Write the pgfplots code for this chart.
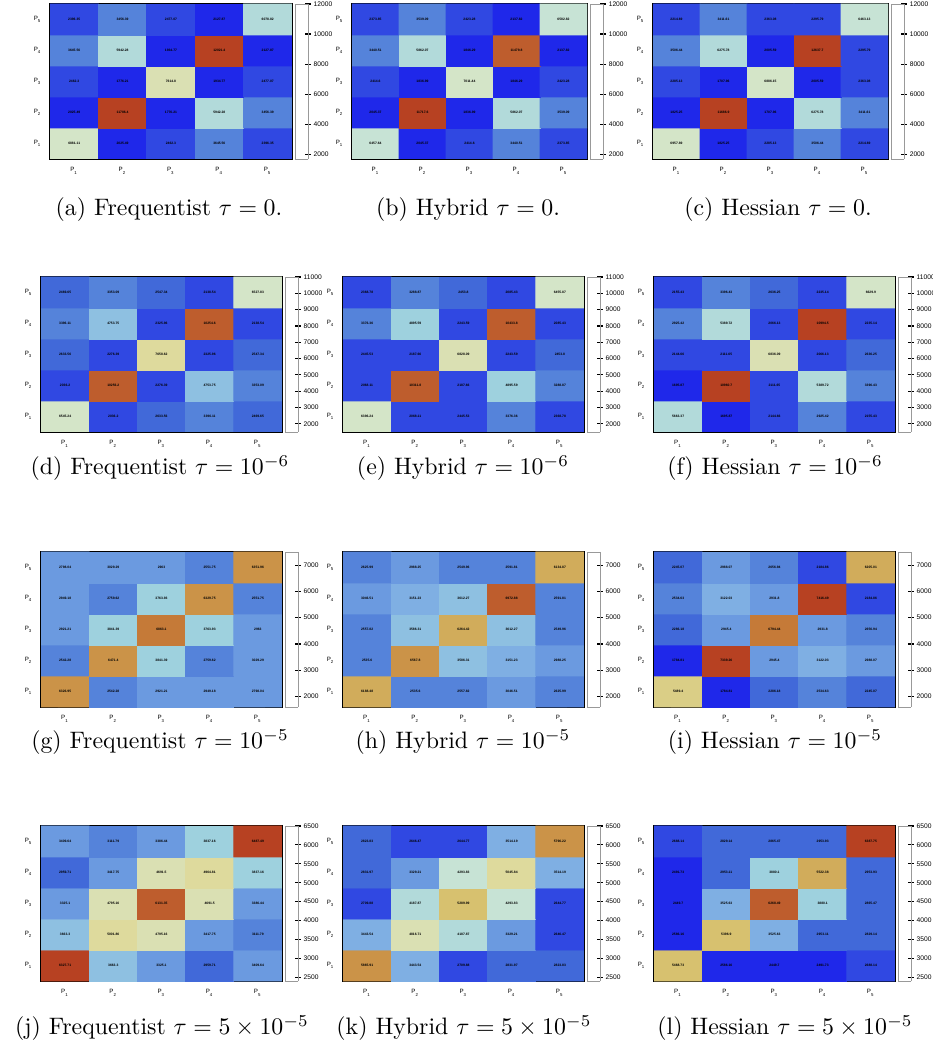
\documentclass[border=0pt]{standalone}
\usepackage{fontspec}
\usepackage{pgfplots}
\pgfplotsset{compat=1.18}
\newfontfamily\rf{Liberation Sans}
\newcommand\px{0.42pt}

\pgfplotsset{
  colormap={lighttemp}{rgb255=(31,40,234) rgb255=(71,117,214) rgb255=(123,171,228)
    rgb255=(160,211,222) rgb255=(210,231,210) rgb255=(222,220,160)
    rgb255=(214,190,105) rgb255=(199,132,60) rgb255=(183,65,34)},
  colormap={lt20}{samples of colormap=(20 of lighttemp)},
  hm/.style={
    scale only axis, anchor=north west,
    height=65.1pt,
    xmin=0.5, xmax=5.5, ymin=0.5, ymax=5.5,
    xtick={1,2,3,4,5}, ytick={1,2,3,4,5},
    xticklabels={P\textsubscript{1},P\textsubscript{2},P\textsubscript{3},P\textsubscript{4},P\textsubscript{5}},
    yticklabels={P\textsubscript{1},P\textsubscript{2},P\textsubscript{3},P\textsubscript{4},P\textsubscript{5}},
    ticklabel style={font=\rf\fontsize{2.6}{3}\selectfont},
    major tick length=0pt,
    extra x ticks={1.5,2.5,3.5,4.5}, extra y ticks={1.5,2.5,3.5,4.5},
    extra x tick labels={}, extra y tick labels={},
    extra tick style={major tick length=3pt, tick style={black, line width=0.6pt}},
    tick align=inside,
    axis line style={black, line width=0.8pt},
    colormap name=lighttemp,
    colorbar,
    colorbar shift/.style={xshift=0.8pt},
    every colorbar/.append style={
      xmin=0, xmax=1, extra x ticks={}, extra y ticks={},
      width=5.5pt,
      ytick pos=right, yticklabel pos=right,
      major tick length=2.5pt, tick align=center,
      tick style={black, line width=0.5pt},
      axis line style={black!40, line width=0.2pt},
      scaled y ticks=false,
      yticklabel style={font=\rf\fontsize{2.8}{3}\selectfont, inner sep=1pt,
        /pgf/number format/.cd, 1000 sep={}, assume math mode=true},
    },
  },
  cells/.style={matrix plot*, mesh/cols=5, point meta=explicit,
    colormap name=lt20, colormap access=piecewise constant},
  labels/.style={
    only marks, mark=none, point meta=explicit,
    nodes near coords={\pgfmathprintnumber[fixed, precision=2, 1000 sep={},
      assume math mode=true]{\pgfplotspointmeta}},
    every node near coord/.append style={font=\rf\bfseries\fontsize{1.4}{1.6}\selectfont,
      anchor=center, inner sep=0pt, text=black},
  },
}

% #1,#2 top-left corner (px), #3/#4 colour range, #5 colorbar ticks, #6 width,
% #7 cells (x,y) [value], row y=1 is P1 at the bottom
\newcommand\hmap[7]{%
\begin{axis}[hm, at={(#1*\px,#2*\px)}, width=#6,
  point meta min=#3, point meta max=#4,
  colorbar style={ytick={#5}}]
\addplot[cells] coordinates {#7};
\addplot[labels] coordinates {#7};
\end{axis}}

\begin{document}
\begin{tikzpicture}
\path[use as bounding box] (0,0) rectangle (932*\px,1049*\px);

% (a) Frequentist tau = 0
\hmap{50}{1045}{1700}{12000}{2000,4000,...,12000}{101.6pt}{
(1,1) [6881.11] (2,1) [2025.49] (3,1) [2462.3] (4,1) [3645.56] (5,1) [2396.35]
(1,2) [2025.49] (2,2) [11786.4] (3,2) [1776.21] (4,2) [5942.28] (5,2) [3456.39]
(1,3) [2462.3] (2,3) [1776.21] (3,3) [7614.8] (4,3) [1934.77] (5,3) [2477.07]
(1,4) [3645.56] (2,4) [5942.28] (3,4) [1934.77] (4,4) [12021.4] (5,4) [2127.87]
(1,5) [2396.35] (2,5) [3456.39] (3,5) [2477.07] (4,5) [2127.87] (5,5) [6078.82]}
% (b) Hybrid tau = 0
\hmap{352}{1045}{1700}{12000}{2000,4000,...,12000}{98.7pt}{
(1,1) [6457.64] (2,1) [2045.37] (3,1) [2414.6] (4,1) [3440.51] (5,1) [2373.85]
(1,2) [2045.37] (2,2) [11717.6] (3,2) [1836.99] (4,2) [5862.07] (5,2) [3539.09]
(1,3) [2414.6] (2,3) [1836.99] (3,3) [7011.44] (4,3) [1846.29] (5,3) [2423.28]
(1,4) [3440.51] (2,4) [5862.07] (3,4) [1846.29] (4,4) [11479.8] (5,4) [2137.82]
(1,5) [2373.85] (2,5) [3539.09] (3,5) [2423.28] (4,5) [2137.82] (5,5) [6582.82]}
% (c) Hessian tau = 0
\hmap{653}{1045}{1700}{12000}{2000,4000,...,12000}{98.7pt}{
(1,1) [6957.89] (2,1) [1825.25] (3,1) [2285.13] (4,1) [3506.44] (5,1) [2214.69]
(1,2) [1825.25] (2,2) [11686.9] (3,2) [1707.96] (4,2) [6275.78] (5,2) [3411.61]
(1,3) [2285.13] (2,3) [1707.96] (3,3) [6886.15] (4,3) [2005.59] (5,3) [2363.08]
(1,4) [3506.44] (2,4) [6275.78] (3,4) [2005.59] (4,4) [12637.7] (5,4) [2295.79]
(1,5) [2214.69] (2,5) [3411.61] (3,5) [2363.08] (4,5) [2295.79] (5,5) [6463.13]}

% (d) Frequentist tau = 1e-6
\hmap{41}{772}{1500}{11000}{2000,3000,...,11000}{101.2pt}{
(1,1) [6545.24] (2,1) [2036.2] (3,1) [2633.56] (4,1) [3396.11] (5,1) [2469.65]
(1,2) [2036.2] (2,2) [10256.2] (3,2) [2276.39] (4,2) [4753.75] (5,2) [3353.09]
(1,3) [2633.56] (2,3) [2276.39] (3,3) [7658.62] (4,3) [2325.96] (5,3) [2547.34]
(1,4) [3396.11] (2,4) [4753.75] (3,4) [2325.96] (4,4) [10254.6] (5,4) [2138.54]
(1,5) [2469.65] (2,5) [3353.09] (3,5) [2547.34] (4,5) [2138.54] (5,5) [6527.83]}
% (e) Hybrid tau = 1e-6
\hmap{343}{772}{1500}{11000}{2000,3000,...,11000}{101.2pt}{
(1,1) [6396.24] (2,1) [2068.11] (3,1) [2445.53] (4,1) [3376.36] (5,1) [2368.78]
(1,2) [2068.11] (2,2) [10311.8] (3,2) [2187.66] (4,2) [4895.59] (5,2) [3288.87]
(1,3) [2445.53] (2,3) [2187.66] (3,3) [6828.09] (4,3) [2243.59] (5,3) [2453.8]
(1,4) [3376.36] (2,4) [4895.59] (3,4) [2243.59] (4,4) [10433.8] (5,4) [2085.43]
(1,5) [2368.78] (2,5) [3288.87] (3,5) [2453.8] (4,5) [2085.43] (5,5) [6455.87]}
% (f) Hessian tau = 1e-6
\hmap{654}{772}{1500}{11000}{2000,3000,...,11000}{101.2pt}{
(1,1) [5663.37] (2,1) [1695.87] (3,1) [2144.66] (4,1) [2925.42] (5,1) [2155.43]
(1,2) [1695.87] (2,2) [10960.7] (3,2) [2111.65] (4,2) [5389.72] (5,2) [3396.43]
(1,3) [2144.66] (2,3) [2111.65] (3,3) [6836.09] (4,3) [2066.13] (5,3) [2636.25]
(1,4) [2925.42] (2,4) [5389.72] (3,4) [2066.13] (4,4) [10994.5] (5,4) [2235.14]
(1,5) [2155.43] (2,5) [3396.43] (3,5) [2636.25] (4,5) [2235.14] (5,5) [6629.9]}

% (g) Frequentist tau = 1e-5
\hmap{41}{497}{1600}{7500}{2000,3000,...,7000}{101.2pt}{
(1,1) [6326.95] (2,1) [2542.28] (3,1) [2921.21] (4,1) [2949.18] (5,1) [2798.04]
(1,2) [2542.28] (2,2) [6471.4] (3,2) [3841.39] (4,2) [2759.62] (5,2) [3029.29]
(1,3) [2921.21] (2,3) [3841.39] (3,3) [6863.1] (4,3) [3763.93] (5,3) [2963]
(1,4) [2949.18] (2,4) [2759.62] (3,4) [3763.93] (4,4) [6329.75] (5,4) [2551.75]
(1,5) [2798.04] (2,5) [3029.29] (3,5) [2963] (4,5) [2551.75] (5,5) [6351.96]}
% (h) Hybrid tau = 1e-5
\hmap{343}{497}{1600}{7500}{2000,3000,...,7000}{101.2pt}{
(1,1) [6188.48] (2,1) [2535.6] (3,1) [2557.82] (4,1) [3046.51] (5,1) [2625.99]
(1,2) [2535.6] (2,2) [6567.8] (3,2) [3586.31] (4,2) [3151.23] (5,2) [2988.25]
(1,3) [2557.82] (2,3) [3586.31] (3,3) [6264.42] (4,3) [3612.27] (5,3) [2549.96]
(1,4) [3046.51] (2,4) [3151.23] (3,4) [3612.27] (4,4) [6972.88] (5,4) [2591.81]
(1,5) [2625.99] (2,5) [2988.25] (3,5) [2549.96] (4,5) [2591.81] (5,5) [6134.87]}
% (i) Hessian tau = 1e-5
\hmap{654}{497}{1600}{7500}{2000,3000,...,7000}{101.2pt}{
(1,1) [5489.4] (2,1) [1784.81] (3,1) [2286.18] (4,1) [2534.63] (5,1) [2245.07]
(1,2) [1784.81] (2,2) [7339.26] (3,2) [2945.4] (4,2) [3122.03] (5,2) [2988.07]
(1,3) [2286.18] (2,3) [2945.4] (3,3) [6794.44] (4,3) [2931.8] (5,3) [2656.94]
(1,4) [2534.63] (2,4) [3122.03] (3,4) [2931.8] (4,4) [7416.49] (5,4) [2184.86]
(1,5) [2245.07] (2,5) [2988.07] (3,5) [2656.94] (4,5) [2184.86] (5,5) [6205.01]}

% (j) Frequentist tau = 5e-5
\hmap{41}{223}{2400}{6500}{2500,3000,...,6500}{101.2pt}{
(1,1) [6327.71] (2,1) [3663.3] (3,1) [3325.1] (4,1) [2959.71] (5,1) [3409.64]
(1,2) [3663.3] (2,2) [5001.86] (3,2) [4795.16] (4,2) [3417.75] (5,2) [3111.79]
(1,3) [3325.1] (2,3) [4795.16] (3,3) [6131.35] (4,3) [4691.5] (5,3) [3386.44]
(1,4) [2959.71] (2,4) [3417.75] (3,4) [4691.5] (4,4) [4964.81] (5,4) [3837.16]
(1,5) [3409.64] (2,5) [3111.79] (3,5) [3386.44] (4,5) [3837.16] (5,5) [6487.49]}
% (k) Hybrid tau = 5e-5
\hmap{343}{223}{2400}{6500}{2500,3000,...,6500}{101.2pt}{
(1,1) [5865.91] (2,1) [3443.54] (3,1) [2709.88] (4,1) [2831.97] (5,1) [2823.83]
(1,2) [3443.54] (2,2) [4816.71] (3,2) [4187.87] (4,2) [3329.21] (5,2) [2646.47]
(1,3) [2709.88] (2,3) [4187.87] (3,3) [5289.99] (4,3) [4293.83] (5,3) [2644.77]
(1,4) [2831.97] (2,4) [3329.21] (3,4) [4293.83] (4,4) [5045.84] (5,4) [3514.19]
(1,5) [2823.83] (2,5) [2646.47] (3,5) [2644.77] (4,5) [3514.19] (5,5) [5796.22]}
% (l) Hessian tau = 5e-5
\hmap{654}{223}{2400}{6500}{2500,3000,...,6500}{101.2pt}{
(1,1) [5468.73] (2,1) [2586.16] (3,1) [2449.7] (4,1) [2491.73] (5,1) [2688.14]
(1,2) [2586.16] (2,2) [5396.9] (3,2) [3525.63] (4,2) [2953.11] (5,2) [2829.14]
(1,3) [2449.7] (2,3) [3525.63] (3,3) [6268.49] (4,3) [3880.1] (5,3) [2865.47]
(1,4) [2491.73] (2,4) [2953.11] (3,4) [3880.1] (4,4) [5522.38] (5,4) [2953.93]
(1,5) [2688.14] (2,5) [2829.14] (3,5) [2865.47] (4,5) [2953.93] (5,5) [6387.75]}

\begin{scope}[every node/.style={font=\fontsize{10}{12}\selectfont}]
\node at (169*\px,839*\px) {(a) Frequentist $\tau = 0$.};
\node at (468*\px,839*\px) {(b) Hybrid $\tau = 0$.};
\node at (778*\px,839*\px) {(c) Hessian $\tau = 0$.};
\node at (160*\px,581*\px) {(d) Frequentist $\tau = 10^{-6}$};
\node at (463*\px,581*\px) {(e) Hybrid $\tau = 10^{-6}$};
\node at (775*\px,581*\px) {(f) Hessian $\tau = 10^{-6}$};
\node at (160*\px,307*\px) {(g) Frequentist $\tau = 10^{-5}$};
\node at (463*\px,307*\px) {(h) Hybrid $\tau = 10^{-5}$};
\node at (775*\px,307*\px) {(i) Hessian $\tau = 10^{-5}$};
\node at (162*\px,21*\px) {(j) Frequentist $\tau = 5 \times 10^{-5}$};
\node at (464*\px,21*\px) {(k) Hybrid $\tau = 5 \times 10^{-5}$};
\node at (785*\px,21*\px) {(l) Hessian $\tau = 5 \times 10^{-5}$};
\end{scope}
\end{tikzpicture}
\end{document}
